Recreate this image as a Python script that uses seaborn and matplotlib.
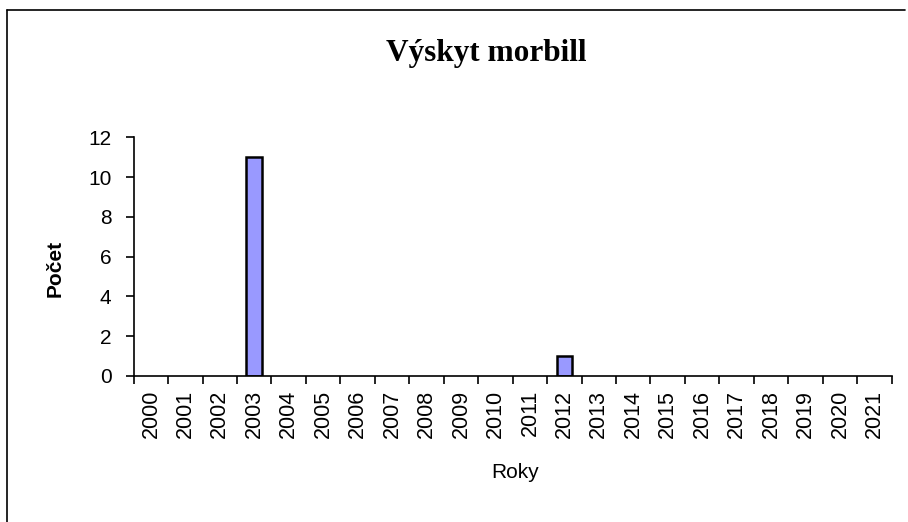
import matplotlib
matplotlib.use("Agg")
import matplotlib.pyplot as plt
import seaborn as sns
import pandas as pd
from matplotlib.lines import Line2D

# data
years = [str(y) for y in range(2000, 2022)]
counts = [0, 0, 0, 11, 0, 0, 0, 0, 0, 0, 0, 0, 1, 0, 0, 0, 0, 0, 0, 0, 0, 0]
y_ticks = [0, 2, 4, 6, 8, 10, 12]

title = "Výskyt morbill"
x_label = "Roky"
y_label = "Počet"

df = pd.DataFrame({"rok": years, "pocet": counts})

sns.set_theme(style="white")
plt.rcParams["font.family"] = ["Liberation Sans", "DejaVu Sans"]
plt.rcParams["text.color"] = "black"
plt.rcParams["xtick.color"] = "black"
plt.rcParams["ytick.color"] = "black"

fig = plt.figure(figsize=(9.08, 5.22), dpi=100)
ax = fig.add_axes([0.1472, 0.2797, 0.8348, 0.4573])

sns.barplot(data=df, x="rok", y="pocet", ax=ax, color="#9999FF",
            width=0.45, edgecolor="black", linewidth=1.8, saturation=1)

# Excel does not draw zero-height bars
for p in ax.patches:
    if p.get_height() == 0:
        p.set_visible(False)

n = len(years)
ax.set_xlim(-0.5, n - 0.5)
ax.set_ylim(0, 12)
ax.set_yticks(y_ticks)
ax.set_yticklabels([str(v) for v in y_ticks], fontsize=15)

# ticks between categories, labels at centres
ax.set_xticks([i - 0.5 for i in range(n + 1)])
ax.set_xticklabels([""] * (n + 1))
ax.set_xticks(range(n), minor=True)
ax.set_xticklabels(years, minor=True, rotation=90, fontsize=15.5)
ax.tick_params(axis="x", which="major", direction="out", length=6, width=1.2,
               color="black", bottom=True)
ax.tick_params(axis="x", which="minor", length=0, pad=10)
ax.tick_params(axis="y", direction="out", length=6, width=1.2, color="black",
               left=True, pad=10)

for s in ["top", "right"]:
    ax.spines[s].set_visible(False)
for s in ["left", "bottom"]:
    ax.spines[s].set_color("black")
    ax.spines[s].set_linewidth(1.2)

ax.set_xlabel("")
ax.set_ylabel("")
fig.text(0.567, 1 - 472 / 522, x_label, ha="center", va="center", fontsize=15)
fig.text(0.061, 1 - 268 / 522, y_label, ha="center", va="center", fontsize=15,
         rotation=90, fontweight="bold")
fig.text(0.535, 1 - 54 / 522, title, ha="center", va="center", fontsize=22.5,
         fontweight="bold", family=["Liberation Serif", "DejaVu Serif"])

# chart area frame (top and left edges visible in the reference)
fig.add_artist(Line2D([7 / 908, 905 / 908], [1 - 10 / 522, 1 - 10 / 522],
                      color="black", lw=1.2, transform=fig.transFigure))
fig.add_artist(Line2D([7 / 908, 7 / 908], [1 - 10 / 522, 0],
                      color="black", lw=1.2, transform=fig.transFigure))

fig.savefig("out.png", dpi=100)
